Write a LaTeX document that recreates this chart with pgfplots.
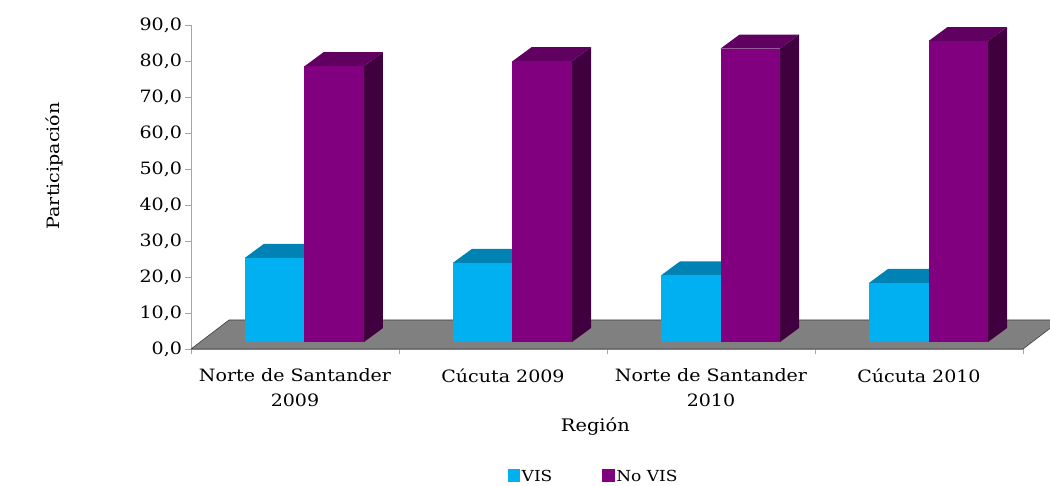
\documentclass[border=0pt]{standalone}
\usepackage{fontspec}
\setmainfont[FakeStretch=1.12]{DejaVu Serif}
\usepackage{pgfplots}
\usepackage{pgfplotstable}
\pgfplotsset{compat=1.18}
\definecolor{visF}{HTML}{00B0F0}
\definecolor{visT}{HTML}{0083B4}
\definecolor{visS}{HTML}{006A91}
\definecolor{novF}{HTML}{800080}
\definecolor{novT}{HTML}{600060}
\definecolor{novS}{HTML}{400040}
\definecolor{floorc}{HTML}{808080}

\pgfplotstableread{
x vis novis
0 23.4 76.6
1 22.0 78.0
2 18.5 81.5
3 16.4 83.6
}\datatable

% #1 left, #2 right (pt, relative to category centre), #3 front, #4 top, #5 side colour
\newcommand\barthreed[5]{%
  \pgfmathsetmacro\hh{\barval*3.6}%
  \pgfmathsetmacro\bot{7-\hh}%
  \pgfmathsetmacro\botb{21-\hh}%
  \pgfmathsetmacro\Ld{#1+19}%
  \pgfmathsetmacro\Rd{#2+19}%
  % top face
  \pgfsetfillcolor{#4}%
  \pgfpathmoveto{\pgfpoint{#1pt}{7pt}}%
  \pgfpathlineto{\pgfpoint{#2pt}{7pt}}%
  \pgfpathlineto{\pgfpoint{\Rd pt}{21pt}}%
  \pgfpathlineto{\pgfpoint{\Ld pt}{21pt}}%
  \pgfpathclose
  \pgfusepath{fill}%
  % side face
  \pgfsetfillcolor{#5}%
  \pgfpathmoveto{\pgfpoint{#2pt}{7pt}}%
  \pgfpathlineto{\pgfpoint{\Rd pt}{21pt}}%
  \pgfpathlineto{\pgfpoint{\Rd pt}{\botb pt}}%
  \pgfpathlineto{\pgfpoint{#2pt}{\bot pt}}%
  \pgfpathclose
  \pgfusepath{fill}%
  % front face
  \pgfsetfillcolor{#3}%
  \pgfpathmoveto{\pgfpoint{#1pt}{7pt}}%
  \pgfpathlineto{\pgfpoint{#2pt}{7pt}}%
  \pgfpathlineto{\pgfpoint{#2pt}{\bot pt}}%
  \pgfpathlineto{\pgfpoint{#1pt}{\bot pt}}%
  \pgfpathclose
  \pgfusepath{fill}%
}
\pgfdeclareplotmark{bar3dvis}{\barthreed{-50}{9.5}{visF}{visT}{visS}}
\pgfdeclareplotmark{bar3dnov}{\barthreed{9.5}{69}{novF}{novT}{novS}}

\begin{document}
\begin{tikzpicture}
\begin{axis}[
  name=ax,
  width=832pt, height=324pt, scale only axis,
  xmin=-0.5, xmax=3.5, ymin=0, ymax=90,
  clip=false,
  axis lines*=left,
  axis line style={-, draw=gray!70, line width=0.8pt},
  xtick={-0.5,0.5,1.5,2.5,3.5},
  x tick label as interval,
  xticklabels={{Norte de Santander\\2009},{Cúcuta 2009},{Norte de Santander\\2010},{Cúcuta 2010}},
  xticklabel style={align=center, font=\fontsize{17}{25}\selectfont, text=black, yshift=-11pt},
  ytick={0,10,...,90},
  yticklabel style={font=\fontsize{17}{20}\selectfont, text=black},
  /pgf/number format/.cd, fixed, fixed zerofill, precision=1, use comma, assume math mode=true,
  /pgfplots/.cd,
  tick align=outside,
  major tick length=5.5pt,
  tick style={draw=gray!70, line width=0.8pt},
  xlabel={Región},
  xlabel style={at={(axis description cs:0.486,-0.256)}, anchor=base, font=\fontsize{17.3}{20}\selectfont},
  ylabel={Participación},
  ylabel style={at={(axis description cs:-0.1635,0.565)}, anchor=center, font=\fontsize{17}{20}\selectfont},
  legend style={at={(axis description cs:0.484,-0.395)}, anchor=center, legend columns=2, draw=none,
    font=\fontsize{15.2}{18}\selectfont, /tikz/every even column/.append style={column sep=48pt}},
]
\addplot[fill=floorc, draw=black!75, line width=0.6pt, forget plot]
  coordinates {(-0.5,0) (3.5,0) (3.6827,8.056) (-0.3173,8.056) (-0.5,0)};
\addplot[only marks, mark=bar3dvis,
  visualization depends on={rawy \as \barval},
  legend image code/.code={\fill[visF] (0pt,-4pt) rectangle (11.5pt,7.5pt);}]
  table[x=x, y=vis]{\datatable};
\addlegendentry{VIS}
\addplot[only marks, mark=bar3dnov,
  visualization depends on={rawy \as \barval},
  legend image code/.code={\fill[novF] (0pt,-4pt) rectangle (11.5pt,7.5pt);}]
  table[x=x, y=novis]{\datatable};
\addlegendentry{No VIS}
\end{axis}
\pgfresetboundingbox
\path (ax.south west) +(-191pt,-137pt) rectangle +(859pt,349pt);
\end{tikzpicture}
\end{document}
